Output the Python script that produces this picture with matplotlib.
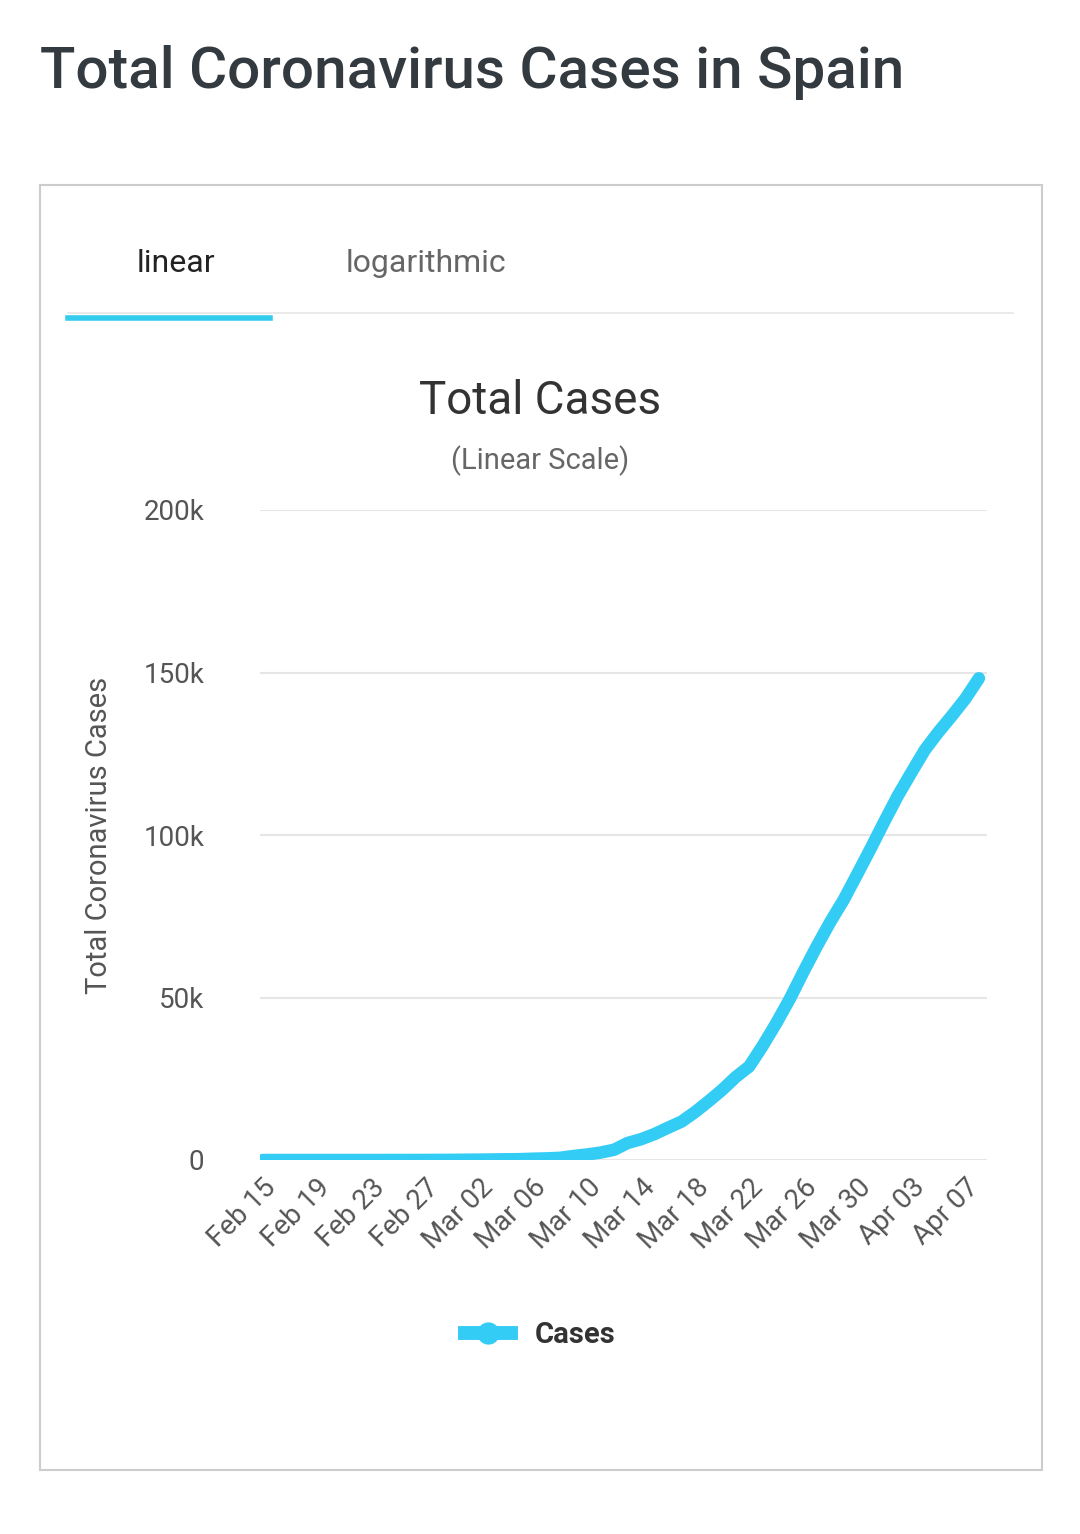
import matplotlib
matplotlib.use("Agg")
import matplotlib.pyplot as plt
from matplotlib.patches import Rectangle
from matplotlib.lines import Line2D
import datetime as dt

plt.rcParams['font.family'] = ['Roboto', 'DejaVu Sans']

start = dt.date(2020, 2, 15)
cases = [2]*10 + [6, 13, 15, 32, 45, 84, 120, 165, 222, 259, 400, 500, 673, 1231, 1695,
         2277, 3146, 5232, 6391, 7988, 9942, 11826, 14769, 18077, 21571, 25496, 28768,
         35136, 42058, 49515, 57786, 65719, 73235, 80110, 87956, 95923, 104118, 112065,
         119199, 126168, 131646, 136675, 141942, 148220]
dates = [start + dt.timedelta(days=i) for i in range(len(cases))]
tick_idx = list(range(0, len(cases), 4))
tick_labels = [dates[i].strftime("%b %d") for i in tick_idx]
y_ticks = [0, 50000, 100000, 150000, 200000]
y_labels = ["0", "50k", "100k", "150k", "200k"]

W, H = 1080, 1534
fig = plt.figure(figsize=(W/100, H/100), dpi=100)
fig.patch.set_facecolor("white")

def fx(px): return px / W
def fy(py): return 1 - py / H

fig.text(fx(40), fy(72), "Total Coronavirus Cases in Spain", fontsize=42, fontweight="medium",
         color="#333a40", va="center", ha="left")
fig.patches.append(Rectangle((fx(40), fy(1470)), fx(1042)-fx(40), fy(185)-fy(1470),
                             transform=fig.transFigure, fill=False, ec="#cccccc", lw=1.5))
fig.text(fx(176), fy(264), "linear", fontsize=23, color="#222222", ha="center", va="center")
fig.text(fx(426), fy(264), "logarithmic", fontsize=23, color="#666666", ha="center", va="center")
fig.lines.append(Line2D([fx(68), fx(1013)], [fy(313), fy(313)], transform=fig.transFigure,
                        color="#e6e6e6", lw=1.2))
fig.lines.append(Line2D([fx(68), fx(270)], [fy(318), fy(318)], transform=fig.transFigure,
                        color="#33ccee", lw=4))
fig.text(fx(540), fy(401), "Total Cases", fontsize=33, color="#333333", ha="center", va="center")
fig.text(fx(540), fy(461), "(Linear Scale)", fontsize=21, color="#666666", ha="center", va="center")

ax = fig.add_axes([fx(260), fy(1160), fx(987)-fx(260), fy(510)-fy(1160)])
ax.plot(range(len(cases)), cases, color="#33ccf5", lw=9, solid_capstyle="round",
        solid_joinstyle="round", label="Cases")
ax.set_xlim(-0.2, 53.6)
ax.set_ylim(0, 200000)
ax.set_yticks(y_ticks)
ax.set_yticklabels(y_labels)
ax.set_xticks(tick_idx)
ax.set_xticklabels(tick_labels, rotation=45, ha="right", rotation_mode="anchor")
ax.grid(axis="y", color="#e6e6e6", lw=1.5)
ax.set_axisbelow(True)
for s in ax.spines.values():
    s.set_visible(False)
ax.tick_params(axis="y", length=0, pad=40, labelsize=20, labelcolor="#555555")
ax.tick_params(axis="x", length=0, pad=10, labelsize=20, labelcolor="#555555")
ax.set_ylabel("Total Coronavirus Cases", fontsize=21, color="#555555", labelpad=22)

leg = fig.legend(handles=[Line2D([0], [0], color="#33ccf5", lw=10, marker="o", markersize=15)],
                 labels=["Cases"], loc="center", bbox_to_anchor=(fx(540), fy(1335)),
                 frameon=False, prop={"size": 21, "weight": "bold"}, handlelength=1.6)
for t in leg.get_texts():
    t.set_color("#333333")

fig.savefig("out.png", dpi=100, facecolor="white")
